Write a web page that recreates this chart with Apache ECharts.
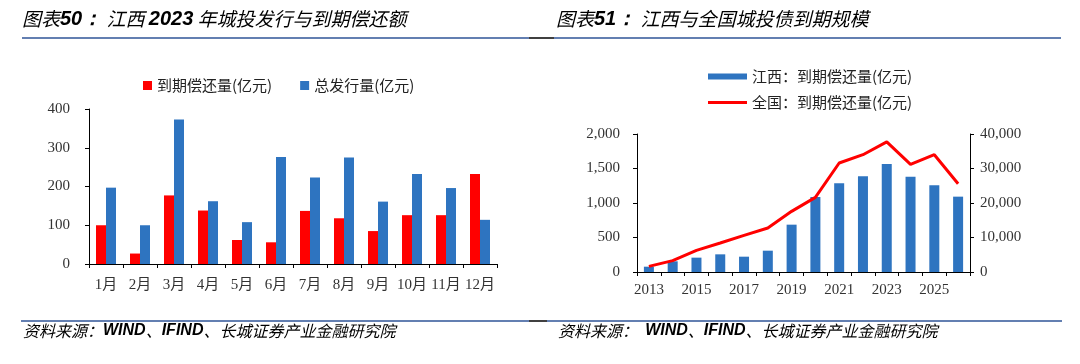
<!DOCTYPE html>
<html>
<head>
<meta charset="utf-8">
<script src="https://cdn.jsdelivr.net/npm/echarts@6/dist/echarts.min.js"></script>
<style>
html,body{margin:0;padding:0;background:#fff;}
#c{width:1080px;height:364px;}
</style>
</head>
<body>
<div id="c"></div>
<script>
// Left chart data
const months = ['1月','2月','3月','4月','5月','6月','7月','8月','9月','10月','11月','12月'];
const repay2023 = [100, 27, 177, 138, 62, 56, 137, 118, 85, 126, 126, 232];
const issue2023 = [197, 100, 373, 162, 108, 276, 223, 275, 161, 232, 196, 114];
// Right chart data
const years = ['2013','2014','2015','2016','2017','2018','2019','2020','2021','2022','2023','2024','2025','2026'];
const jiangxiDue = [77, 155, 208, 256, 222, 309, 686, 1087, 1285, 1386, 1565, 1381, 1256, 1092];
const nationalDue = [1640, 3290, 6280, 8400, 10630, 12750, 17580, 21640, 31600, 34000, 37700, 31200, 34000, 25600];

const RED = '#FF0000';
const BLUE = '#2E74C0';
const TITLE_BLUE = '#3B5DA8';
const DARK_BLUE = '#1F4690';
const LINE_BLUE = '#2F5597';
const numFont = "'Liberation Serif', 'Noto Sans CJK SC', serif";
const cjkFont = "'Noto Sans CJK SC', sans-serif";

const axisLine = {show: true, lineStyle: {color: '#000', width: 1}};
const tick = {show: true, length: 4, lineStyle: {color: '#000'}};
const yLabel = {color: '#333', fontFamily: numFont, fontSize: 15};

const chart = echarts.init(document.getElementById('c'), null, {renderer: 'canvas'});

const titleRich = {
  a: {fontFamily: cjkFont, fontSize: 19, fontStyle: 'italic', color: TITLE_BLUE},
  b: {fontFamily: "'Liberation Sans', sans-serif", fontSize: 20, fontStyle: 'italic', fontWeight: 'bold', color: DARK_BLUE}
};
const srcRich = {
  a: {fontFamily: cjkFont, fontSize: 16, fontStyle: 'italic', color: TITLE_BLUE},
  b: {fontFamily: "'Liberation Sans', sans-serif", fontSize: 16, fontStyle: 'italic', fontWeight: 'bold', color: DARK_BLUE}
};

chart.setOption({
  animation: false,
  backgroundColor: '#fff',
  textStyle: {fontFamily: cjkFont},
  graphic: [
    {type: 'text', left: 22, top: 9, style: {text: '{a|图表}{b|50：}{a| 江西 }{b|2023}{a| 年城投发行与到期偿还额}', rich: titleRich}},
    {type: 'text', left: 556, top: 9, style: {text: '{a|图表}{b|51：}{a| 江西与全国城投债到期规模}', rich: titleRich}},
    {type: 'line', shape: {x1: 22, y1: 38, x2: 529, y2: 38}, style: {stroke: LINE_BLUE, lineWidth: 1.5}},
    {type: 'line', shape: {x1: 529, y1: 38, x2: 554, y2: 38}, style: {stroke: '#000', lineWidth: 1.5}},
    {type: 'line', shape: {x1: 554, y1: 38, x2: 1061, y2: 38}, style: {stroke: LINE_BLUE, lineWidth: 1.5}},
    {type: 'line', shape: {x1: 21, y1: 321, x2: 529, y2: 321}, style: {stroke: LINE_BLUE, lineWidth: 1.5}},
    {type: 'line', shape: {x1: 529, y1: 321, x2: 547, y2: 321}, style: {stroke: '#000', lineWidth: 1.5}},
    {type: 'line', shape: {x1: 547, y1: 321, x2: 1062, y2: 321}, style: {stroke: LINE_BLUE, lineWidth: 1.5}},
    {type: 'text', left: 23, top: 323, style: {text: '{a|资料来源：}{b|WIND}{a|、}{b|IFIND}{a|、长城证券产业金融研究院}', rich: srcRich}},
    {type: 'text', left: 558, top: 323, style: {text: '{a|资料来源：  }{b|WIND}{a|、}{b|IFIND}{a|、长城证券产业金融研究院}', rich: srcRich}}
  ],
  legend: [
    {
      left: 138, top: 73, orient: 'horizontal', itemWidth: 9, itemHeight: 9, itemGap: 28,
      textStyle: {fontFamily: cjkFont, fontSize: 15, color: '#222'},
      data: [{name: '到期偿还量(亿元)', icon: 'rect'}, {name: '总发行量(亿元)', icon: 'rect'}]
    },
    {
      left: 703, top: 64, itemWidth: 39, itemHeight: 6, itemGap: 4,
      textStyle: {fontFamily: cjkFont, fontSize: 15, color: '#222'},
      data: [{name: '江西：到期偿还量(亿元)', icon: 'rect'}]
    },
    {
      left: 703, top: 90, itemWidth: 39, itemHeight: 3, itemGap: 4,
      textStyle: {fontFamily: cjkFont, fontSize: 15, color: '#222'},
      data: [{name: '全国：到期偿还量(亿元)', icon: 'rect'}]
    }
  ],
  grid: [
    {left: 89, top: 109, width: 408, height: 155, containLabel: false},
    {left: 637, top: 134, width: 333, height: 138, containLabel: false}
  ],
  xAxis: [
    {
      type: 'category', gridIndex: 0, data: months, boundaryGap: true,
      axisLine: axisLine, axisTick: tick,
      axisLabel: {color: '#333', fontFamily: numFont, fontSize: 15, margin: 14, interval: 0}
    },
    {
      type: 'category', gridIndex: 1, data: years, boundaryGap: true,
      axisLine: axisLine, axisTick: Object.assign({}, tick, {interval: 0}),
      axisLabel: {color: '#333', fontFamily: numFont, fontSize: 15, margin: 11, interval: 1}
    }
  ],
  yAxis: [
    {
      type: 'value', gridIndex: 0, min: 0, max: 400, interval: 100,
      axisLine: axisLine, axisTick: tick, splitLine: {show: false},
      axisLabel: Object.assign({}, yLabel, {margin: 19})
    },
    {
      type: 'value', gridIndex: 1, min: 0, max: 2000, interval: 500, position: 'left',
      axisLine: axisLine, axisTick: tick, splitLine: {show: false},
      axisLabel: Object.assign({}, yLabel, {margin: 17, formatter: v => v.toLocaleString('en-US')})
    },
    {
      type: 'value', gridIndex: 1, min: 0, max: 40000, interval: 10000, position: 'right',
      axisLine: axisLine, axisTick: tick, splitLine: {show: false},
      axisLabel: Object.assign({}, yLabel, {margin: 10, formatter: v => v.toLocaleString('en-US')})
    }
  ],
  series: [
    {
      name: '到期偿还量(亿元)', type: 'bar', xAxisIndex: 0, yAxisIndex: 0,
      data: repay2023, barWidth: 10, barGap: '0%', itemStyle: {color: RED}
    },
    {
      name: '总发行量(亿元)', type: 'bar', xAxisIndex: 0, yAxisIndex: 0,
      data: issue2023, barWidth: 10, barGap: '0%', itemStyle: {color: BLUE}
    },
    {
      name: '江西：到期偿还量(亿元)', type: 'bar', xAxisIndex: 1, yAxisIndex: 1,
      data: jiangxiDue, barWidth: 10, itemStyle: {color: BLUE}
    },
    {
      name: '全国：到期偿还量(亿元)', type: 'line', xAxisIndex: 1, yAxisIndex: 2,
      data: nationalDue, symbol: 'none', showSymbol: false,
      lineStyle: {color: RED, width: 3}, itemStyle: {color: RED}, z: 3
    }
  ]
});
</script>
</body>
</html>
